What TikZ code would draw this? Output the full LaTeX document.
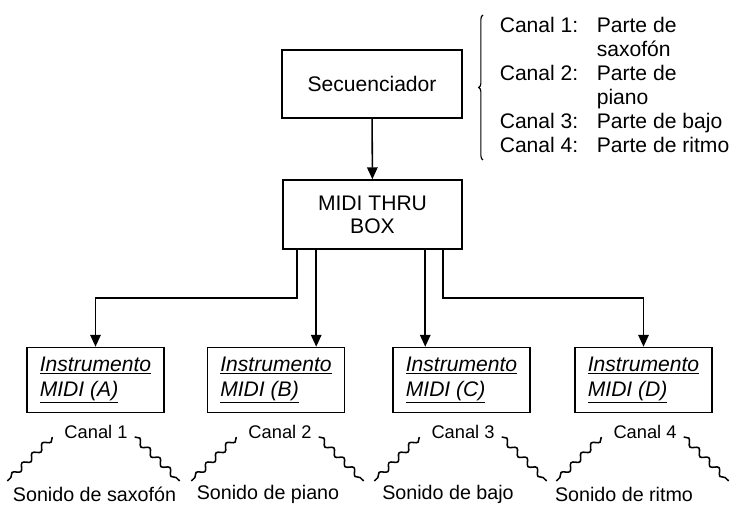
\documentclass[tikz,border=0pt]{standalone}
\usepackage{fontspec}
\setmainfont{Liberation Sans}
\usepackage{tikz}
\usetikzlibrary{arrows.meta, positioning}
\usetikzlibrary{decorations.pathmorphing, decorations.pathreplacing}

\begin{document}
\begin{tikzpicture}[x=0.025cm, y=-0.025cm, line width=1.1pt,
    caja/.style={draw, minimum width=4.5cm, minimum height=1.7cm, align=center, font=\fontsize{15}{16.5}\selectfont},
    inst/.style={draw, minimum width=3.425cm, minimum height=1.625cm, align=left, inner xsep=8pt, font=\fontsize{15}{17.8}\selectfont\itshape},
    etiq/.style={inner sep=1pt, font=\fontsize{13}{15}\selectfont},
    flecha/.style={-{Triangle[length=8.5pt,width=7.5pt]}},
    onda/.style={decorate, decoration={snake, segment length=10pt, amplitude=2pt}}]
    \useasboundingbox (0,0) rectangle (736,507);
    \node[caja] (sec) at (372,84) {Secuenciador};
    \node[caja, minimum width=4.475cm, minimum height=1.725cm] (thru) at (372.5,214.5) {MIDI THRU\\BOX};
    \draw[flecha] (sec) -- (thru);
    % instrumentos
    \foreach \l/\x in {A/95.5, B/276, C/461.5, D/643.5}
    \node[inst] (inst\l) at (\x,380) {\underline{Instrumento}\\\underline{MIDI (\l)}};
    \coordinate (tA) at ([xshift=0.375cm]thru.south west);
    \coordinate (tB) at ([xshift=0.85cm]thru.south west);
    \coordinate (tC) at ([xshift=3.575cm]thru.south west);
    \coordinate (tD) at ([xshift=4.025cm]thru.south west);
    \draw[flecha] (tA) -- ++(0,48) -| (instA.north);
    \draw[flecha] (tB) -- (tB |- instB.north);
    \draw[flecha] (tC) -- (tC |- instC.north);
    \draw[flecha] (tD) -- ++(0,48) -| (instD.north);
    % canales y sonidos
    \foreach \i/\x/\s/\t in {1/96/94.5/saxofón, 2/280/268/piano, 3/463/448/bajo, 4/645/624/ritmo}{
    \node[etiq] (canal\i) at (\x,432) {Canal \i};
    \node[etiq, inner sep=0pt, font=\fontsize{14}{16}\selectfont] (son\i) at (\s,494) {Sonido de \t};
    \draw[onda] ([shift={(-10,5)}]canal\i.west) -- ++(-45,44);
    \draw[onda] ([shift={(5,5)}]canal\i.east) -- ++(45,44);
    }
    % leyenda
    \node[anchor=north west, inner sep=0pt, font=\fontsize{15}{17}\selectfont] (leyenda) at (499,15)
    {\begin{tabular}{@{}p{2.425cm}@{}l@{}}
    Canal 1: & Parte de\\
             & saxofón\\
    Canal 2: & Parte de\\
             & piano\\
    Canal 3: & Parte de bajo\\
    Canal 4: & Parte de ritmo
    \end{tabular}};
    \draw[line width=0.8pt, decorate, decoration={brace, amplitude=3pt}] ([xshift=-0.4cm]leyenda.south west) -- ([xshift=-0.4cm]leyenda.north west);
\end{tikzpicture}
\end{document}
